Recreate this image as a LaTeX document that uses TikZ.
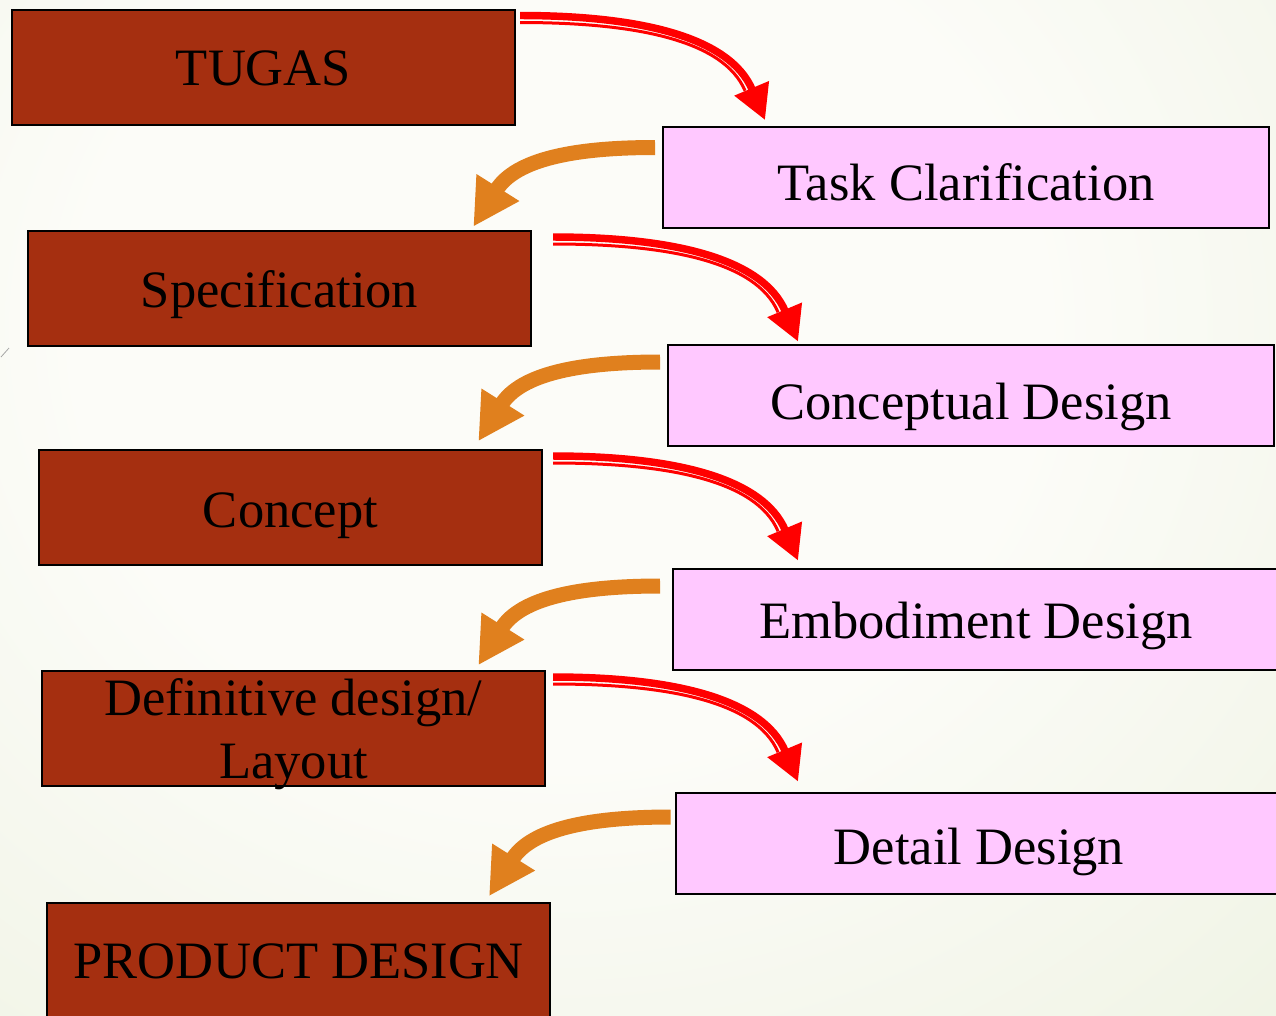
\documentclass[tikz,border=0pt]{standalone}
\usepackage{fontspec}
\setmainfont{Liberation Serif}
\usetikzlibrary{arrows.meta,calc}

\definecolor{boxbrown}{RGB}{165,47,16}
\definecolor{boxpink}{RGB}{255,200,255}
\definecolor{flowred}{RGB}{255,0,0}
\definecolor{floworange}{RGB}{224,128,30}
\definecolor{bgin}{RGB}{252,252,248}
\definecolor{bgout}{RGB}{220,230,198}

% soft radial glow for the page background
\pgfdeclareradialshading{bgglow}{\pgfpoint{0bp}{0bp}}{%
  color(0bp)=(bgin); color(12bp)=(bgin); color(50bp)=(bgout)}

\newcommand\stagefont{\fontsize{39.4pt}{47.25pt}\selectfont}

\begin{document}
\begin{tikzpicture}[x=0.75pt,y=-0.75pt,
  stage/.style={draw=black, line width=1.5pt, inner sep=0pt, anchor=north west},
  outputbox/.style={stage, fill=boxbrown, minimum width=377.25pt, minimum height=86.25pt},
  phasebox/.style={stage, fill=boxpink, minimum width=454.5pt, minimum height=75.75pt},
  lbl/.style={inner sep=0pt, anchor=base, font=\stagefont, text=black},
  redband/.style={draw=flowred, line width=5.6pt, -{Triangle[length=25.8pt,width=26.7pt]}},
  redline/.style={draw=flowred, line width=2.25pt, shorten >=26pt},
  orangeband/.style={draw=floworange, line width=11.25pt, -{Triangle[length=34.7pt,width=35.4pt]}}
]
\useasboundingbox (0,0) rectangle (1276,1015);

% background
\begin{scope}
  \clip (0,0) rectangle (1276,1015);
  \shade[shading=bgglow] (-440,-570) rectangle (1560,1230);
\end{scope}
\draw[gray!70, line width=0.6pt] (1,357) -- (9,348);

% results of each step (left column)
\node[outputbox] (tugas)  at (11,9)   {};
\node[outputbox] (spec)   at (27,230) {};
\node[outputbox] (concept) at (38,449) {};
\node[outputbox] (layout) at (41,670) {};
\node[outputbox, minimum height=90pt] (product) at (46,902) {};

% design phases (right column)
\node[phasebox] (clarify)   at (662,126) {};
\node[phasebox] (conceptual) at (667,344) {};
\node[phasebox] (embodiment) at (672,568) {};
\node[phasebox] (detail)    at (675,792) {};

% labels
\node[lbl] (tugas-t)   at ($(tugas.north)+(0,76)$)   {TUGAS};
\node[lbl] (spec-t)    at ($(spec.north)+(0,77)$)    {Specification};
\node[lbl] (concept-t) at ($(concept.north)+(0,78)$) {Concept};
\node[lbl] (layout-t1) at ($(layout.north)+(0,45)$)  {Definitive design/};
\node[lbl] (layout-t2) at ($(layout.north)+(0,108)$) {Layout};
\node[lbl] (product-t) at ($(product.north)+(0,76)$) {PRODUCT DESIGN};

\node[lbl] (clarify-t)    at ($(clarify.north)+(0,74)$)    {Task Clarification};
\node[lbl] (conceptual-t) at ($(conceptual.north)+(0,75)$) {Conceptual Design};
\node[lbl] (embodiment-t) at ($(embodiment.north)+(0,70)$) {Embodiment Design};
\node[lbl] (detail-t)     at ($(detail.north)+(0,72)$)     {Detail Design};

% red arrows: from each result to the next phase
\coordinate (r1s) at (520,15.5); \coordinate (r1e) at (765,120);
\coordinate (r2s) at (553,237);  \coordinate (r2e) at (798,341.5);
\coordinate (r3s) at (553,456);  \coordinate (r3e) at (798,560.5);
\coordinate (r4s) at (553,677);  \coordinate (r4e) at (798,781.5);
\foreach \k in {1,2,3,4}{
  \draw[redline] ($(r\k s)+(0,7)$) .. controls +(114,0) and +(-35,-83) .. ($(r\k e)+(-6.5,2.7)$);
  \draw[redband] (r\k s) .. controls +(120,0) and +(-35,-83) .. (r\k e);
}

% orange arrows: from each phase to its result
\coordinate (o1s) at (655,147.5); \coordinate (o1e) at (473.3,226.7);
\coordinate (o2s) at (660,362);   \coordinate (o2e) at (478.3,441.2);
\coordinate (o3s) at (660,586);   \coordinate (o3e) at (478.3,665.2);
\coordinate (o4s) at (670.7,817); \coordinate (o4e) at (489,896.2);
\foreach \k in {1,2,3,4}{
  \draw[orangeband] (o\k s) .. controls +(-80,0) and +(42.6,-67.7) .. (o\k e);
}
\end{tikzpicture}
\end{document}
